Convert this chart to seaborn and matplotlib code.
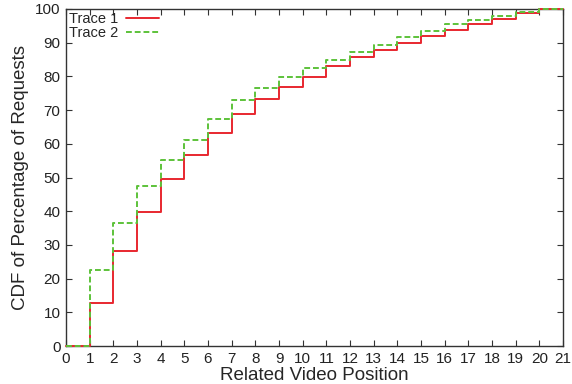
import matplotlib
matplotlib.use("Agg")
import matplotlib.pyplot as plt
import seaborn as sns
import pandas as pd
import numpy as np

positions = list(range(0, 22))
trace1 = [0, 12.8, 28.1, 39.9, 49.5, 56.8, 63.1, 68.9, 73.2, 76.8, 79.9, 83.0,
          85.7, 87.8, 90.0, 91.9, 93.7, 95.5, 97.1, 98.7, 100, 100]
trace2 = [0, 22.6, 36.5, 47.6, 55.2, 61.2, 67.5, 72.9, 76.5, 79.8, 82.6, 85.0,
          87.2, 89.4, 91.7, 93.5, 95.5, 96.8, 98.0, 99.2, 100, 100]
labels = ["Trace 1", "Trace 2"]

df = pd.DataFrame({
    "pos": positions * 2,
    "cdf": trace1 + trace2,
    "trace": [labels[0]] * len(positions) + [labels[1]] * len(positions),
})

sns.set_theme(style="ticks")
plt.rcParams['font.family'] = ['Liberation Sans', 'DejaVu Sans']

fig = plt.figure(figsize=(5.72, 3.84), dpi=100)
ax = fig.add_axes([66/572, 1 - 346/384, 497/572, 337/384])

sns.lineplot(data=df, x="pos", y="cdf", hue="trace", style="trace",
             palette={labels[0]: "#e8272f", labels[1]: "#5dc23a"},
             dashes={labels[0]: "", labels[1]: (3, 1.5)},
             drawstyle="steps-post", linewidth=1.4, ax=ax, legend=True,
             estimator=None)
for ln in ax.get_lines():
    ln.set_clip_on(False)
    ln.set_zorder(3)

ax.set_xlim(0, 21)
ax.set_ylim(0, 100)
ax.set_xticks(range(0, 22))
ax.set_yticks(range(0, 101, 10))
ax.tick_params(direction="in", top=True, right=True, labelsize=11, length=4,
               width=0.8, colors="#333333", labelcolor="#222222", pad=4)
for s in ax.spines.values():
    s.set_linewidth(1.0)
    s.set_color("#333333")
    s.set_zorder(2)
ax.set_xlabel("Related Video Position", fontsize=13.5, labelpad=1)
ax.set_ylabel("CDF of Percentage of Requests", fontsize=13.5, labelpad=4)

leg = ax.legend(loc="upper left", frameon=False, markerfirst=False,
                fontsize=10.5, handlelength=2.3, handletextpad=0.5,
                labelspacing=0.0, borderaxespad=0.0, borderpad=0.0,
                bbox_to_anchor=(0.006, 0.99))

fig.savefig("out.png", dpi=100)
